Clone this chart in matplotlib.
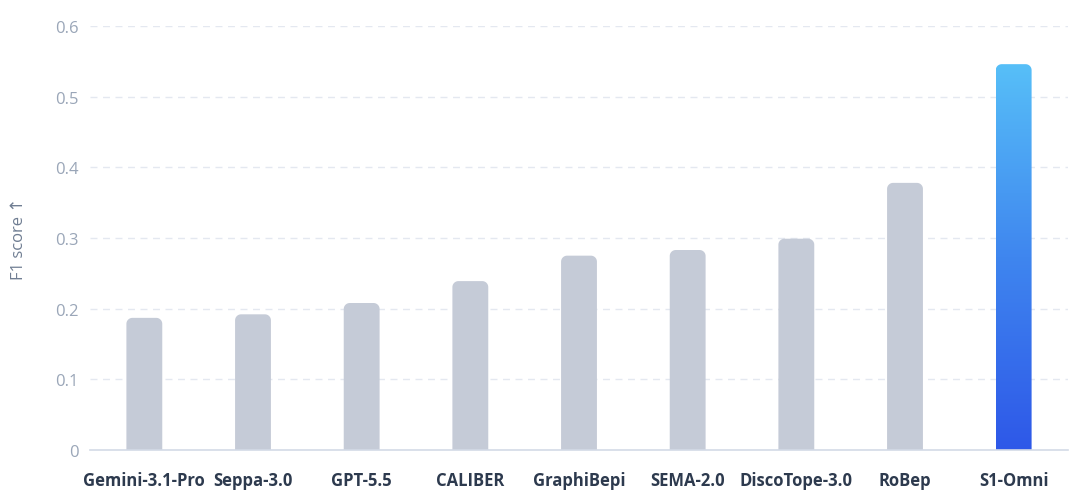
import matplotlib
matplotlib.use("Agg")
import matplotlib.pyplot as plt
import numpy as np
from matplotlib.patches import PathPatch
from matplotlib.path import Path
from matplotlib.colors import LinearSegmentedColormap

models = ["Gemini-3.1-Pro", "Seppa-3.0", "GPT-5.5", "CALIBER", "GraphiBepi",
          "SEMA-2.0", "DiscoTope-3.0", "RoBep", "S1-Omni"]
f1_scores = [0.187, 0.192, 0.208, 0.239, 0.275, 0.283, 0.299, 0.378, 0.546]
y_ticks = [0, 0.1, 0.2, 0.3, 0.4, 0.5, 0.6]
y_tick_labels = ["0", "0.1", "0.2", "0.3", "0.4", "0.5", "0.6"]

plt.rcParams['font.family'] = ['Open Sans', 'DejaVu Sans']

W, H = 1075, 502
L, R, T, B = 90, 1068, 27, 451
fig = plt.figure(figsize=(W / 100, H / 100), dpi=100)
ax = fig.add_axes([L / W, 1 - B / H, (R - L) / W, (B - T) / H])

n = len(models)
x = np.arange(n)
bar_w = 0.33
ymax = 0.6
ax.set_xlim(-0.5, n - 0.5)
ax.set_ylim(0, ymax)

px_x = n / (R - L)          # data x per pixel
px_y = ymax / (B - T)       # data y per pixel
radius_px = 6
rx, ry = radius_px * px_x, radius_px * px_y

grey = "#c5cbd7"
cmap = LinearSegmentedColormap.from_list("g", ["#2e58e8", "#3f86ef", "#57bff8"])


def top_rounded_path(x0, w, h):
    t1 = np.linspace(np.pi, np.pi / 2, 12)
    t2 = np.linspace(np.pi / 2, 0, 12)
    pts = [(x0, 0), (x0, h - ry)]
    pts += [(x0 + rx + rx * np.cos(t), h - ry + ry * np.sin(t)) for t in t1]
    pts += [(x0 + w - rx + rx * np.cos(t), h - ry + ry * np.sin(t)) for t in t2]
    pts += [(x0 + w, 0), (x0, 0)]
    codes = [Path.MOVETO] + [Path.LINETO] * (len(pts) - 2) + [Path.CLOSEPOLY]
    return Path(pts, codes)


for i, v in enumerate(f1_scores):
    x0 = x[i] - bar_w / 2
    path = top_rounded_path(x0, bar_w, v)
    if i == n - 1:
        patch = PathPatch(path, facecolor="none", edgecolor="none", zorder=3)
        ax.add_patch(patch)
        grad = np.linspace(0, 1, 256).reshape(-1, 1)
        im = ax.imshow(grad, extent=(x0, x0 + bar_w, 0, v), origin="lower",
                       cmap=cmap, aspect="auto", zorder=3, interpolation="bilinear")
        im.set_clip_path(patch)
    else:
        patch = PathPatch(path, facecolor=grey, edgecolor="none", zorder=3)
        ax.add_patch(patch)

ax.set_xlim(-0.5, n - 0.5)
ax.set_ylim(0, ymax)

ax.set_yticks(y_ticks)
ax.set_yticklabels(y_tick_labels)
ax.set_xticks(x)
ax.set_xticklabels(models, fontweight="bold", color="#2d3a4e", fontsize=12)
ax.tick_params(axis="y", length=0, pad=8, labelsize=12, labelcolor="#9aa6b8")
ax.tick_params(axis="x", length=0, pad=15)

for t in y_ticks[1:]:
    ax.axhline(t, color="#e4e8f0", linestyle=(0, (5, 4)), linewidth=1, zorder=1)

for s in ["top", "right", "left"]:
    ax.spines[s].set_visible(False)
ax.spines["bottom"].set_color("#d3dae6")
ax.spines["bottom"].set_linewidth(1.2)
ax.spines["bottom"].set_zorder(4)

ax.set_ylabel("F1 score ↑", color="#6f7d92", fontsize=12, labelpad=20)

fig.savefig("out.png", dpi=100, facecolor="white")
